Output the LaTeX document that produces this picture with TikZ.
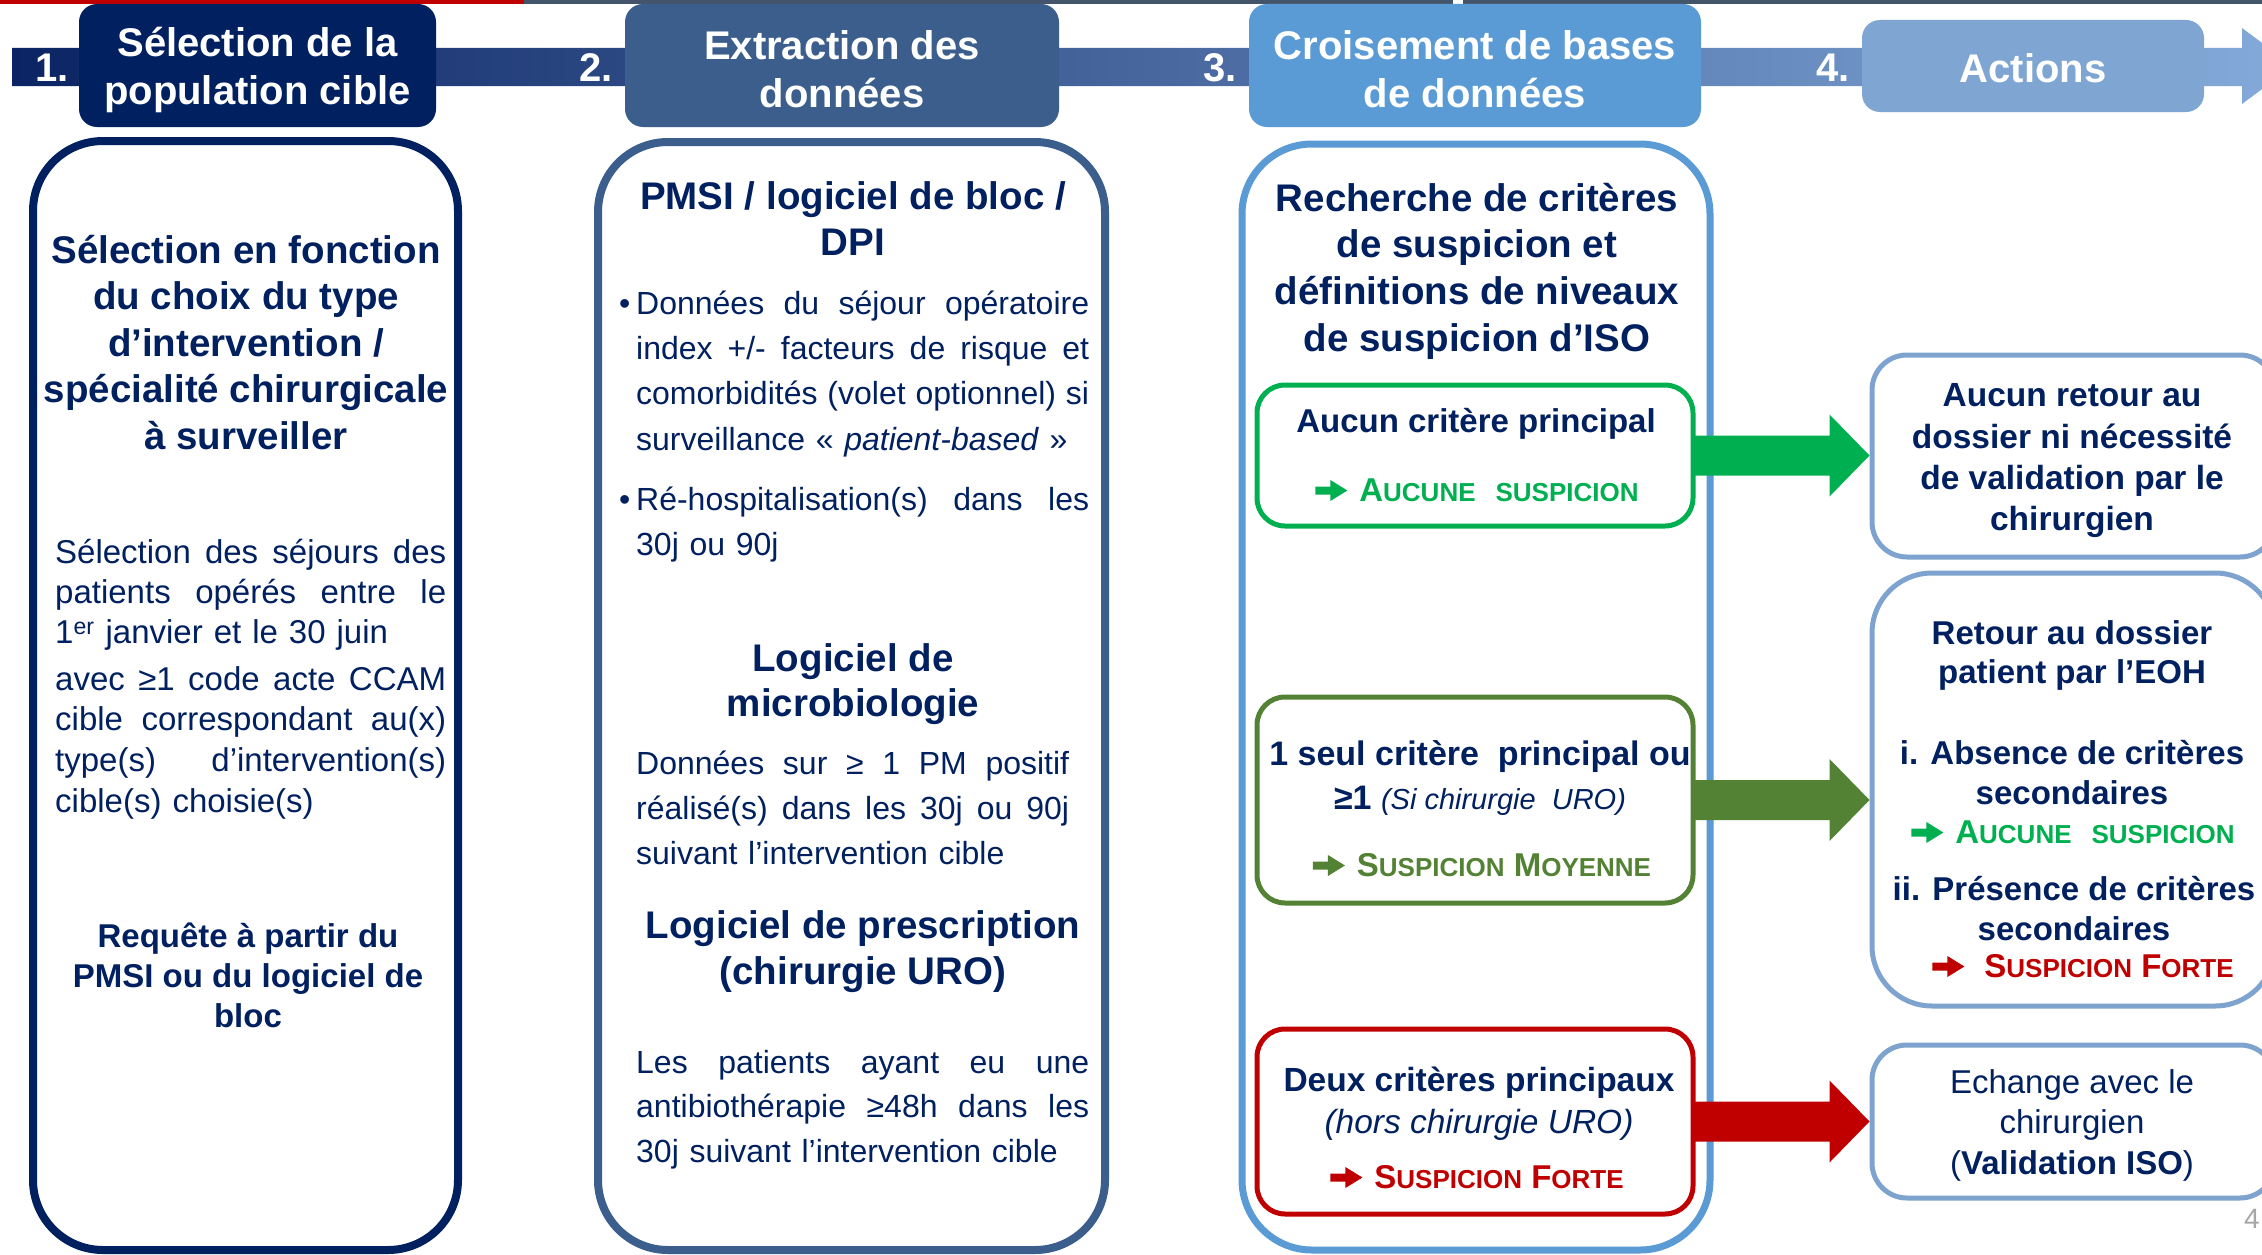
\documentclass[tikz,border=0pt]{standalone}
\usepackage{fontspec}
\setmainfont{Liberation Sans}
\usetikzlibrary{calc}
\definecolor{navy}{RGB}{0,32,96}
\definecolor{hdrtwo}{RGB}{59,94,140}
\definecolor{hdrthree}{RGB}{91,155,213}
\definecolor{hdrfour}{RGB}{127,166,210}
\definecolor{colfour}{RGB}{127,163,207}
\definecolor{sgreen}{RGB}{0,176,80}
\definecolor{solive}{RGB}{84,130,53}
\definecolor{sred}{RGB}{192,0,0}
\definecolor{slate}{RGB}{68,84,106}
\definecolor{bandL}{RGB}{11,36,99}
\definecolor{bandM}{RGB}{70,120,180}
\definecolor{bandR}{RGB}{132,170,218}
\newcommand\fz[2]{\fontsize{#1}{#2}\selectfont}
\newcommand\jl[2]{\leavevmode\hbox to #1{\spaceskip=.25em plus 1fil\relax #2}}
\newcommand\sw{\rule{0pt}{1em}}
\newcommand\arr[1]{\tikz[x=1pt,y=1pt,baseline=0pt]\fill[#1] (0,6.5) -- (15,6.5) -- (15,0) -- (32,10.5) -- (15,21) -- (15,14.5) -- (0,14.5) -- cycle;}
\newcommand\sca[1]{{\fontsize{26}{26}\selectfont #1}}
\newcommand\barrow[3]{%
  \fill[#3] let \p1=(#1.east), \p2=(#2.west) in
  (\x1-3pt,\y1+20pt) -- (\x2-40pt,\y1+20pt) -- (\x2-40pt,\y1+41pt) -- (\x2,\y1)
  -- (\x2-40pt,\y1-41pt) -- (\x2-40pt,\y1-20pt) -- (\x1-3pt,\y1-20pt) -- cycle;}
\tikzset{
  hdrbox/.style={rectangle, rounded corners=18pt, inner sep=0pt},
  hdrtxt/.style={inner sep=0pt, text=white, align=center, font=\bfseries\fz{40}{48}},
  numlbl/.style={inner sep=0pt, text=white, font=\bfseries\fz{40}{48}},
  colbox/.style={rectangle, rounded corners=70pt, inner sep=0pt},
  critbox/.style={rectangle, rounded corners=28pt, line width=5pt, inner sep=0pt,
    minimum width=436, fill=white},
  actbox/.style={rectangle, draw=colfour, line width=5pt, inner sep=0pt,
    minimum width=403, fill=white},
  ttl/.style={anchor=north, inner sep=0pt, align=center, text=navy,
    font=\bfseries\fz{38.5}{46.5}},
  tcb/.style={anchor=north, inner sep=0pt, align=center, text=navy,
    font=\bfseries\fz{33}{40}},
  tcr/.style={anchor=north, inner sep=0pt, align=center, text=navy,
    font=\fz{33}{40.5}},
  body/.style={anchor=north west, inner sep=0pt, align=left, text=navy,
    font=\fz{33}{40}},
  susp/.style={anchor=base, inner sep=0pt, font=\bfseries\fz{33}{40}}
}
\begin{document}
\begin{tikzpicture}[x=1pt,y=-1pt]
\useasboundingbox (0,0) rectangle (2262,1255);
\fill[white] (0,0) rectangle (2262,1255);
% top line
\fill[sred] (0,0) rectangle (524,4);
\fill[slate] (524,0) rectangle (1453,4);
\fill[slate] (1463,0) rectangle (2262,4);
% band with arrow
\shade[left color=bandL, middle color=bandM, right color=bandR]
  (12,48) -- (2242,48) -- (2242,28) -- (2293,66) -- (2242,104) -- (2242,86) -- (12,86) -- cycle;
% header boxes
\node[hdrbox, fill=navy, minimum width=357, minimum height=123] (h1) at (257.5,65.5) {};
\node[hdrbox, fill=hdrtwo, minimum width=434, minimum height=123] (h2) at (842,65.5) {};
\node[hdrbox, fill=hdrthree, minimum width=452, minimum height=123] (h3) at (1475,65.5) {};
\node[hdrbox, fill=hdrfour, minimum width=342, minimum height=92] (h4) at (2033,66) {};
\node[hdrtxt] (h1t) at ($(h1.center)+(0,4)$) {Sélection de la\\population cible};
\node[hdrtxt] (h2t) at ($(h2.center)+(0,4)$) {Extraction des\\données};
\node[hdrtxt] (h3t) at ($(h3.center)+(0,4)$) {Croisement de bases\\de données};
\node[hdrtxt] (h4t) at ($(h4.center)+(0,2)$) {Actions};
\node[numlbl] (n1) at (52,68) {1.};
\node[numlbl] (n2) at (596,68) {2.};
\node[numlbl] (n3) at (1220,68) {3.};
\node[numlbl] (n4) at (1833,68) {4.};
% columns
\node[colbox, draw=navy, line width=8pt, minimum width=425, minimum height=1109] (c1) at (245.5,695.5) {};
\node[colbox, draw=hdrtwo, line width=8pt, minimum width=507, minimum height=1108] (c2) at (851.5,696) {};
\node[colbox, draw=hdrthree, line width=7pt, minimum width=468, minimum height=1106] (c3) at (1476,697) {};
% column 1 text
\node[ttl] (t1) at (246,224.5) {\sw Sélection en fonction\\du choix du type\\d’intervention /\\spécialité chirurgicale\\à surveiller};
\node[body, text width=391] (b1) at (55,530) {\sw\jl{391pt}{Sélection des séjours des}\\\jl{391pt}{patients opérés entre le}\\1\textsuperscript{er} janvier et le 30 juin};
\node[body, text width=391, font=\fz{33}{40.7}] (b2) at (55,657) {\sw\jl{391pt}{avec ≥1 code acte CCAM}\\\jl{391pt}{cible correspondant au(x)}\\\jl{391pt}{type(s) d’intervention(s)}\\cible(s) choisie(s)};
\node[tcb] (b3) at (248,914) {\sw Requête à partir du\\PMSI ou du logiciel de\\bloc};
% column 2 text
\node[ttl] (t2) at (853,170.5) {\sw PMSI / logiciel de bloc /\\DPI};
\node[body, text width=453, font=\fz{32}{45.3}] (p1) at (636,282) {\sw\llap{•\hspace{6pt}}\jl{453pt}{Données du séjour opératoire}\\\jl{453pt}{index +/- facteurs de risque et}\\\jl{453pt}{comorbidités (volet optionnel) si}\\surveillance « \textit{patient-based} »};
\node[body, text width=453, font=\fz{32}{45}] (p2) at (636,478) {\sw\llap{•\hspace{6pt}}\jl{453pt}{Ré-hospitalisation(s) dans les}\\30j ou 90j};
\node[ttl, font=\bfseries\fz{38.5}{45}] (t3) at (853,632.5) {\sw Logiciel de\\microbiologie};
\node[body, text width=433, font=\fz{32}{45}] (p3) at (636,742) {\sw\jl{433pt}{Données sur ≥ 1 PM positif}\\\jl{433pt}{réalisé(s) dans les 30j ou 90j}\\suivant l’intervention cible};
\node[ttl, font=\bfseries\fz{38.5}{46}] (t4) at (863,899.5) {\sw Logiciel de prescription\\(chirurgie URO)};
\node[body, text width=453, font=\fz{32}{44.5}] (p4) at (636,1041) {\sw\jl{453pt}{Les patients ayant eu une}\\\jl{453pt}{antibiothérapie ≥48h dans les}\\30j suivant l’intervention cible};
% column 3
\node[ttl, font=\bfseries\fz{38.5}{46.7}] (t5) at (1477,172.5) {\sw Recherche de critères\\de suspicion et\\définitions de niveaux\\de suspicion d’ISO};
\node[critbox, draw=sgreen, minimum height=141] (g) at (1475,455.5) {};
\node[critbox, draw=solive, minimum height=206] (o) at (1475,800) {};
\node[critbox, draw=sred, minimum height=185] (r) at (1475,1121.5) {};
\node[tcb] (g1) at (1476,399) {\sw Aucun critère principal};
\node[susp, text=sgreen] (g2) at (1477,501) {\arr{sgreen}\hspace{12pt}A\sca{UCUNE}\hspace{20pt}\sca{SUSPICION}};
\node[tcb, font=\bfseries\fz{34}{44}] (o1) at (1480,731) {\sw 1 seul critère\ \ principal ou\\≥1 {\mdseries\itshape\fz{29}{44}(Si chirurgie\ \ URO)}};
\node[susp, text=solive] (o2) at (1482,876) {\arr{solive}\hspace{12pt}S\sca{USPICION} M\sca{OYENNE}};
\node[tcb, font=\bfseries\fz{33.5}{42}] (r1) at (1479,1058) {\sw Deux critères principaux\\{\mdseries\itshape (hors chirurgie URO)}};
\node[susp, text=sred] (r2) at (1477,1188) {\arr{sred}\hspace{12pt}S\sca{USPICION} F\sca{ORTE}};
% column 4
\node[actbox, rounded corners=35pt, minimum height=202] (a1) at (2073.5,456) {};
\node[actbox, rounded corners=60pt, minimum height=433] (a2) at (2073.5,789.5) {};
\node[actbox, rounded corners=35pt, minimum height=153] (a3) at (2073.5,1121.5) {};
\node[tcb, font=\bfseries\fz{33.5}{41.3}] (a1t) at (2072,373) {\sw Aucun retour au\\dossier ni nécessité\\de validation par le\\chirurgien};
\node[tcb, font=\bfseries\fz{33}{39}] (a2t) at (2072,611) {\sw Retour au dossier\\patient par l’EOH};
\node[tcb] (a2i) at (2072,731) {\sw i. Absence de critères\\secondaires};
\node[susp, text=sgreen] (a2g) at (2073,843) {\arr{sgreen}\hspace{12pt}A\sca{UCUNE}\hspace{20pt}\sca{SUSPICION}};
\node[tcb] (a2ii) at (2074,867) {\sw ii. Présence de critères\\secondaires};
\node[susp, text=sred] (a2r) at (2083,977) {\arr{sred}\hspace{20pt}S\sca{USPICION} F\sca{ORTE}};
\node[tcr] (a3t) at (2072,1060) {\sw Echange avec le\\chirurgien\\(\textbf{Validation ISO})};
% block arrows
\barrow{g}{a1}{sgreen}
\barrow{o}{a2}{solive}
\barrow{r}{a3}{sred}
% page number
\node[anchor=base west, inner sep=0pt, text=gray!70, font=\fz{28}{28}] (pg) at (2244,1228) {4};
\end{tikzpicture}
\end{document}
